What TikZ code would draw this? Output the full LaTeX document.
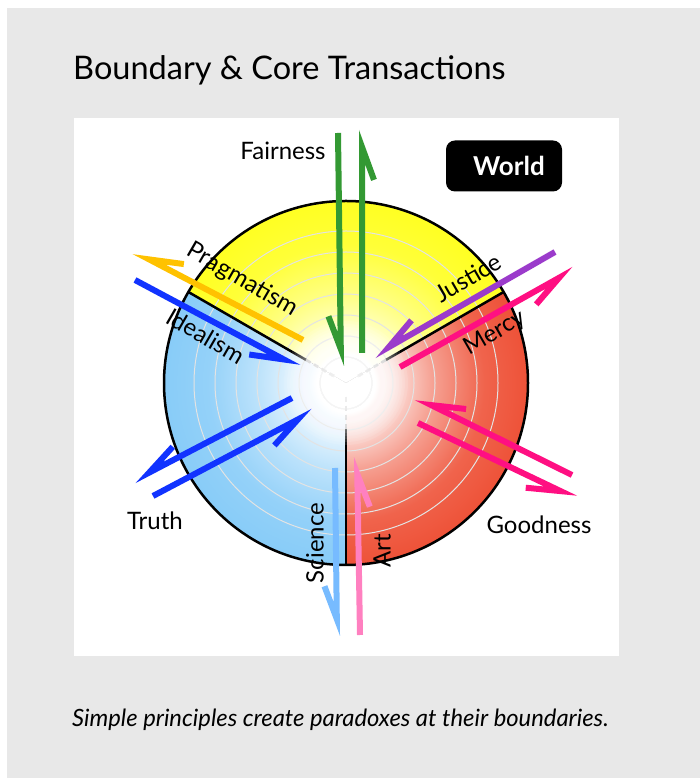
\documentclass[tikz,border=0pt]{standalone}
\usepackage{fontspec}
\setmainfont{Lato}
\usepackage{tikz}
\usetikzlibrary{calc,positioning}

\definecolor{panelgray}{HTML}{E8E8E8}
\definecolor{secYellow}{HTML}{FFFF22}
\definecolor{secBlue}{HTML}{88CCF8}
\definecolor{secRed}{HTML}{EE5238}
\definecolor{fairGreen}{HTML}{339933}
\definecolor{pragOrange}{HTML}{FFC200}
\definecolor{idealBlue}{HTML}{1133FF}
\definecolor{justPurple}{HTML}{9B3BCB}
\definecolor{mercyPink}{HTML}{FF0F82}
\definecolor{sciBlue}{HTML}{77BBFF}
\definecolor{artPink}{HTML}{FF80C0}

% sector shadings: white core, colour at the rim (25bp = rim)
\pgfdeclareradialshading{shYellow}{\pgfpoint{0bp}{0bp}}{color(0bp)=(white); color(4bp)=(white); color(12bp)=(secYellow!55!white); color(19bp)=(secYellow!90!white); color(25bp)=(secYellow); color(50bp)=(secYellow)}
\pgfdeclareradialshading{shBlue}{\pgfpoint{0bp}{0bp}}{color(0bp)=(white); color(4bp)=(white); color(12bp)=(secBlue!55!white); color(19bp)=(secBlue!90!white); color(25bp)=(secBlue); color(50bp)=(secBlue)}
\pgfdeclareradialshading{shRed}{\pgfpoint{0bp}{0bp}}{color(0bp)=(white); color(4bp)=(white); color(12bp)=(secRed!55!white); color(19bp)=(secRed!90!white); color(25bp)=(secRed); color(50bp)=(secRed)}

\tikzset{
  harp/.style={line width=6pt, line join=miter},
  lbl/.style={font=\fontsize{24}{28}\selectfont, inner sep=0pt},
  rim/.style={line width=2.5pt, black},
  ring/.style={line width=1pt, white!78!gray},
}
% line with a one-sided barb at its tip
\newcommand{\harpline}[4]{%
  \coordinate (#2-s) at (#3);
  \coordinate (#2-t) at ($(#4)!16pt!(#3)$);
  \draw[harp,#1] (#2-s) -- (#2-t) -- ($(#2-t)!35pt!20:(#2-s)$);}

\begin{document}
\begin{tikzpicture}[x=1pt,y=1pt]
\useasboundingbox (0,0) rectangle (700,778);

% panel
\fill[panelgray] (7,0) rectangle (700,770);
\fill[white] (74,122) rectangle (619,660);
\node[anchor=base west, inner sep=0pt, font=\fontsize{32.5}{38}\selectfont] (title) at (73,698) {Boundary \& Core Transactions};
\node[anchor=base west, inner sep=0pt, font=\itshape\fontsize{23.8}{28}\selectfont] (caption) at (72,51) {Simple principles create paradoxes at their boundaries.};

% sectors
\coordinate (C) at (346,395);
\begin{scope}
  \clip (C) -- ++(30:182) arc[start angle=30, end angle=150, radius=182] -- cycle;
  \fill[shading=shYellow] (C) circle (182);
\end{scope}
\begin{scope}
  \clip (C) -- ++(150:182) arc[start angle=150, end angle=270, radius=182] -- cycle;
  \fill[shading=shBlue] (C) circle (182);
\end{scope}
\begin{scope}
  \clip (C) -- ++(270:182) arc[start angle=270, end angle=390, radius=182] -- cycle;
  \fill[shading=shRed] (C) circle (182);
\end{scope}

% rings
\foreach \r in {26,47,...,152}
  \draw[ring] (C) circle (\r);

% boundaries
\foreach \a in {30,150,270} {
  \draw[rim] ($(C)+(\a:46)$) -- ($(C)+(\a:182)$);
  \draw[line width=2.5pt, gray!55, dash pattern=on 5pt off 4pt] ($(C)+(\a:14)$) -- ($(C)+(\a:46)$);
}
\draw[rim] (C) circle (182);

% white glow at the core
\foreach \r in {62,59,...,17}
  \fill[white, opacity=0.1] (C) circle (\r);

% transactions
\harpline{fairGreen}{fairIn}{338,645}{341,413}
\harpline{fairGreen}{fairOut}{362,425}{362,647}
\harpline{pragOrange}{prag}{303,438}{135,526}
\harpline{idealBlue}{ideal}{135,498}{298,411}
\harpline{justPurple}{just}{555,526}{375,423}
\harpline{mercyPink}{mercy}{400,411}{573,508}
\harpline{mercyPink}{goodIn}{572,303}{417,380}
\harpline{mercyPink}{goodOut}{418,355}{575,280}
\harpline{idealBlue}{truthOut}{292,380}{135,298}
\harpline{idealBlue}{truthIn}{153,282}{312,366}
\harpline{sciBlue}{sci}{335,310}{337,143}
\harpline{artPink}{art}{360,143}{357,320}

% labels
\node[lbl] (fairness) at (283,627) {Fairness};
\node[lbl, rotate=-30] (pragmatism) at (242,498) {Pragmatism};
\node[lbl, rotate=-30] (idealism) at (206,442) {Idealism};
\node[lbl, rotate=30] (justice) at (468,500) {Justice};
\node[lbl, rotate=30] (mercy) at (495,445) {Mercy};
\node[lbl] (truth) at (155,257) {Truth};
\node[lbl] (goodness) at (539,253) {Goodness};
\node[lbl, rotate=90] (science) at (315,235) {Science};
\node[lbl, rotate=90] (art) at (382,227) {Art};
\node[fill=black, rounded corners=9pt, minimum width=116pt, minimum height=51pt,
  text=white, font=\bfseries\fontsize{26}{30}\selectfont] (world) at (504,612) {\hspace*{10pt}World};
\end{tikzpicture}
\end{document}
